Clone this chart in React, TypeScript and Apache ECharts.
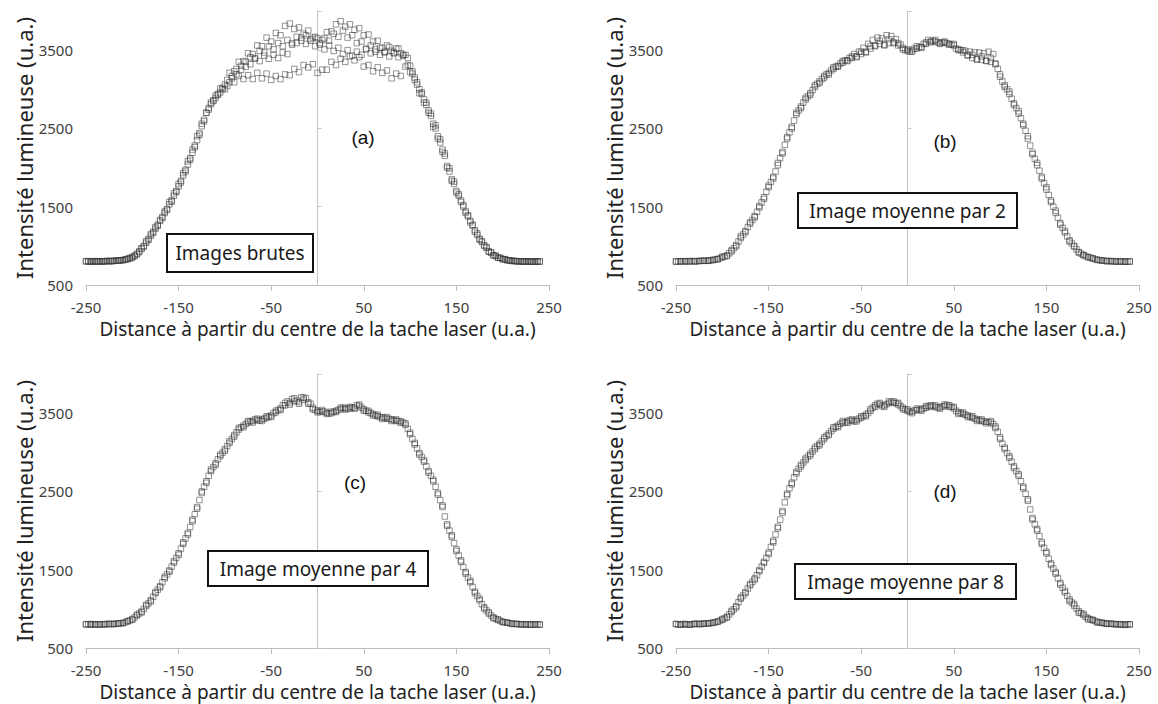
import React, { useEffect, useRef } from "react";
import * as echarts from "echarts";

// sample positions (u.a.)
const XA = [-250,-245,-240,-235,-230,-225,-220,-215,-210,-205,-200,-195,-190,-185,-180,-175,-170,-165,-160,-155,-150,-145,-140,-135,-130,-125,-120,-115,-110,-105,-100,-95,-90,-85,-80,-75,-70,-65,-60,-55,-50,-45,-40,-35,-30,-25,-20,-15,-10,-5,0,5,10,15,20,25,30,35,40,45,50,55,60,65,70,75,80,85,90,95,100,105,110,115,120,125,130,135,140,145,150,155,160,165,170,175,180,185,190,195,200,205,210,215,220,225,230,235,240];
const XB = [-247.5,-242.5,-237.5,-232.5,-227.5,-222.5,-217.5,-212.5,-207.5,-202.5,-197.5,-192.5,-187.5,-182.5,-177.5,-172.5,-167.5,-162.5,-157.5,-152.5,-147.5,-142.5,-137.5,-132.5,-127.5,-122.5,-117.5,-112.5,-107.5,-102.5,-97.5,-92.5,-87.5,-82.5,-77.5,-72.5,-67.5,-62.5,-57.5,-52.5,-47.5,-42.5,-37.5,-32.5,-27.5,-22.5,-17.5,-12.5,-7.5,-2.5,2.5,7.5,12.5,17.5,22.5,27.5,32.5,37.5,42.5,47.5,52.5,57.5,62.5,67.5,72.5,77.5,82.5,87.5,92.5,97.5,102.5,107.5,112.5,117.5,122.5,127.5,132.5,137.5,142.5,147.5,152.5,157.5,162.5,167.5,172.5,177.5,182.5,187.5,192.5,197.5,202.5,207.5,212.5,217.5,222.5,227.5,232.5,237.5];

// (a) Images brutes
const A1 = [800,796,802,799,803,805,808,811,816,830,850,890,960,1040,1130,1220,1320,1420,1530,1640,1760,1900,2040,2190,2350,2530,2700,2830,2920,3010,3060,3210,3230,3350,3360,3460,3450,3560,3550,3660,3610,3720,3690,3810,3840,3770,3790,3710,3750,3660,3650,3630,3730,3740,3830,3870,3800,3830,3760,3780,3690,3700,3610,3620,3530,3560,3490,3520,3460,3440,3300,3150,3000,2870,2730,2560,2400,2230,2020,1850,1700,1580,1440,1320,1200,1090,1010,930,880,850,830,815,808,804,801,799,800,797,800];
const A2 = [803,799,804,800,806,803,810,814,824,840,870,930,1000,1090,1180,1270,1370,1470,1580,1700,1830,1970,2120,2280,2440,2610,2760,2860,2940,3020,3120,3140,3260,3250,3350,3320,3400,3360,3430,3390,3440,3400,3470,3450,3570,3590,3660,3580,3620,3550,3590,3510,3560,3490,3530,3450,3500,3430,3480,3440,3510,3460,3510,3440,3480,3420,3460,3410,3430,3310,3200,3060,2940,2800,2660,2500,2320,2150,1950,1790,1640,1500,1380,1260,1140,1050,975,910,870,845,828,814,806,803,800,802,798,801];
const A3 = [805,802,800,804,801,806,809,813,820,836,858,900,970,1060,1150,1240,1330,1440,1560,1670,1790,1930,2080,2230,2400,2560,2700,2810,2890,2960,3000,3090,3090,3170,3130,3180,3130,3210,3140,3200,3120,3170,3130,3190,3180,3260,3220,3310,3280,3320,3210,3250,3250,3350,3310,3390,3350,3420,3370,3410,3290,3310,3230,3280,3210,3240,3140,3200,3170,3290,3220,3120,2950,2830,2700,2520,2370,2200,2000,1830,1680,1560,1420,1300,1180,1080,1000,925,878,848,828,816,808,803,800,802,799,801,800];
const A4 = [801,805,800,803,807,805,811,816,826,845,875,920,990,1075,1165,1255,1355,1460,1565,1690,1810,1950,2100,2260,2420,2590,2740,2850,2930,3000,3040,3170,3190,3300,3290,3410,3390,3490,3470,3550,3510,3590,3550,3630,3590,3670,3620,3690,3640,3670,3570,3650,3620,3710,3670,3750,3660,3690,3590,3610,3520,3560,3480,3530,3470,3540,3470,3520,3440,3400,3230,3090,2960,2830,2690,2540,2360,2180,1990,1820,1660,1520,1390,1270,1160,1060,985,918,874,848,830,815,808,803,801,799,800,798];

// (b) Image moyenne par 2
const B1 = [802,800,805,800,803,806,808,812,818,832,852,878,930,1010,1100,1190,1285,1380,1490,1620,1750,1880,2030,2200,2370,2520,2680,2780,2870,2950,3030,3100,3150,3210,3260,3300,3340,3370,3400,3420,3450,3480,3520,3560,3580,3570,3590,3600,3560,3530,3490,3500,3520,3540,3580,3610,3610,3590,3595,3580,3560,3510,3470,3440,3400,3385,3375,3365,3350,3330,3160,3050,2940,2820,2690,2560,2370,2190,2030,1880,1720,1580,1420,1290,1170,1070,990,920,880,858,838,822,812,806,804,801,800,798,800];
const B2 = [800,803,801,806,804,809,810,815,825,842,865,905,970,1055,1145,1240,1330,1435,1555,1690,1815,1950,2120,2290,2450,2600,2730,2830,2910,2990,3070,3130,3190,3240,3290,3330,3370,3400,3450,3480,3530,3580,3630,3660,3650,3690,3680,3640,3570,3500,3480,3520,3540,3580,3630,3620,3600,3600,3590,3570,3520,3500,3490,3480,3470,3470,3460,3480,3450,3260,3100,3000,2880,2760,2630,2470,2280,2110,1960,1800,1650,1500,1360,1230,1120,1030,955,900,868,848,830,817,810,805,802,800,801,799];
const B3 = [798,804,801,806,800,808,811,809,822,828,862,870,945,995,1120,1175,1300,1365,1510,1600,1770,1860,2060,2180,2390,2500,2700,2760,2890,2930,3050,3080,3170,3190,3280,3290,3360,3360,3420,3410,3480,3470,3550,3550,3620,3560,3640,3590,3590,3510,3510,3480,3550,3530,3600,3600,3630,3580,3610,3570,3580,3500,3500,3430,3440,3380,3420,3360,3400,3320,3190,3030,2970,2800,2720,2540,2400,2170,2060,1860,1750,1560,1450,1270,1190,1055,1000,915,885,855,842,820,815,804,806,799,802,797,801];

// (c) Image moyenne par 4
const C1 = [805,800,802,800,804,806,808,812,820,840,870,915,965,1035,1110,1200,1290,1390,1490,1590,1710,1830,1970,2120,2300,2480,2630,2760,2860,2950,3040,3120,3220,3290,3340,3380,3400,3410,3420,3440,3470,3510,3560,3600,3630,3650,3640,3670,3640,3550,3530,3520,3505,3500,3530,3550,3565,3560,3570,3590,3550,3510,3490,3460,3445,3430,3420,3400,3395,3350,3250,3100,2990,2880,2760,2630,2480,2300,2080,1920,1760,1600,1470,1340,1220,1110,1020,940,890,858,835,822,812,806,804,800,802,799,800];
const C2 = [800,804,799,803,806,804,810,815,828,852,890,940,998,1070,1155,1245,1340,1440,1540,1650,1770,1900,2045,2210,2390,2560,2700,2810,2910,2995,3080,3170,3255,3320,3360,3395,3420,3405,3430,3455,3500,3540,3600,3650,3680,3660,3700,3690,3620,3540,3515,3520,3495,3515,3540,3570,3555,3575,3600,3570,3530,3500,3470,3450,3440,3425,3410,3400,3380,3300,3170,3050,2940,2820,2700,2560,2390,2180,2000,1840,1680,1535,1400,1280,1165,1060,980,915,872,846,828,816,808,803,800,801,798,801];
const C3 = [801,806,798,804,800,809,806,815,818,845,862,925,955,1050,1095,1215,1275,1410,1475,1610,1690,1850,1950,2140,2280,2500,2610,2780,2840,2970,3020,3140,3200,3310,3320,3400,3380,3430,3400,3460,3450,3530,3540,3630,3610,3690,3620,3700,3620,3570,3510,3540,3490,3520,3515,3570,3545,3580,3555,3610,3530,3530,3470,3480,3425,3450,3400,3420,3375,3370,3230,3120,2970,2900,2740,2650,2460,2320,2060,1940,1740,1620,1450,1360,1200,1130,1005,955,882,865,830,826,808,809,801,803,797,804,798];

// (d) Image moyenne par 8
const D1 = [805,800,803,800,806,808,810,815,822,838,860,900,960,1035,1130,1215,1300,1390,1480,1600,1700,1870,2030,2250,2450,2610,2730,2840,2900,2980,3040,3110,3170,3240,3300,3340,3380,3395,3400,3415,3440,3480,3530,3600,3610,3600,3630,3650,3610,3570,3530,3520,3540,3550,3570,3600,3580,3575,3590,3600,3560,3510,3490,3470,3440,3420,3400,3390,3380,3330,3170,3060,2930,2820,2700,2560,2380,2160,2000,1850,1710,1580,1450,1330,1210,1120,1040,970,920,880,855,835,820,812,808,805,800,798,800];
const D2 = [798,806,800,804,810,806,814,818,830,850,878,930,995,1085,1170,1260,1345,1430,1540,1650,1790,1950,2140,2360,2540,2680,2790,2870,2945,3010,3080,3140,3210,3270,3325,3365,3380,3410,3395,3430,3460,3500,3570,3620,3590,3615,3645,3630,3590,3545,3515,3535,3545,3560,3590,3595,3570,3585,3605,3580,3530,3500,3480,3455,3430,3410,3395,3385,3360,3260,3110,2990,2880,2760,2630,2470,2270,2080,1930,1780,1640,1515,1390,1270,1165,1080,1005,945,898,866,845,826,816,810,806,802,800,803];
const D3 = [808,797,806,797,809,805,813,812,825,835,870,890,975,1020,1145,1200,1315,1375,1495,1585,1720,1850,2050,2230,2470,2590,2750,2820,2920,2960,3060,3090,3190,3220,3320,3320,3400,3375,3420,3395,3460,3460,3550,3580,3630,3580,3650,3630,3630,3550,3550,3500,3560,3530,3590,3580,3600,3555,3610,3580,3580,3490,3510,3450,3460,3400,3420,3370,3400,3310,3190,3040,2950,2800,2720,2540,2400,2140,2020,1830,1730,1560,1470,1310,1230,1100,1060,950,935,865,860,825,825,808,812,802,804,795,803];

const X_NAME = "Distance à partir du centre de la tache laser (u.a.)";
const Y_NAME = "Intensité lumineuse (u.a.)";
const TAGS = ["(a)", "(b)", "(c)", "(d)"];
const BOX_TEXTS = ["Images brutes", "Image moyenne par 2", "Image moyenne par 4", "Image moyenne par 8"];

const PANELS = [
  { left: 86, top: 11, curves: [[XA, A1], [XB, A2], [XA, A3], [XB, A4]], tag: [363, 137], box: [167, 234, 146, 38] },
  { left: 676, top: 11, curves: [[XA, B1], [XB, B2], [XA, B3]], tag: [945, 141], box: [798, 193, 219, 35] },
  { left: 86, top: 374, curves: [[XA, C1], [XB, C2], [XA, C3]], tag: [355, 482], box: [208, 551, 220, 35] },
  { left: 676, top: 374, curves: [[XA, D1], [XB, D2], [XA, D3]], tag: [945, 491], box: [795, 564, 221, 35] },
];

const FONT = "'Noto Sans', 'Open Sans', sans-serif";

export default function App() {
  const ref = useRef<HTMLDivElement>(null);
  useEffect(() => {
    document.body.style.margin = "0";
    if (!ref.current) return;
    const chart = echarts.init(ref.current, undefined, { renderer: "svg" });
    const grid: any[] = [];
    const xAxis: any[] = [];
    const yAxis: any[] = [];
    const series: any[] = [];
    const graphic: any[] = [];
    PANELS.forEach((p, i) => {
      grid.push({ left: p.left, top: p.top, width: 463, height: 274 });
      xAxis.push({
        gridIndex: i, type: "value", min: -250, max: 250, interval: 100,
        axisLine: { onZero: false, lineStyle: { color: "#bdbdbd", width: 1 } },
        axisTick: { show: true, length: 6, lineStyle: { color: "#bdbdbd" } },
        axisLabel: { fontSize: 15, color: "#404040", margin: 14, fontFamily: FONT, formatter: (v: number) => String(v) },
        splitLine: { show: false },
        name: X_NAME, nameLocation: "middle", nameGap: 34,
        nameTextStyle: { fontSize: 19, color: "#222", fontFamily: FONT },
      });
      yAxis.push({
        gridIndex: i, type: "value", min: 500, max: 4000, interval: 1000,
        axisLine: { show: false, onZero: false },
        axisTick: { show: false },
        axisLabel: { fontSize: 15, color: "#404040", margin: 13, showMaxLabel: false, fontFamily: FONT, formatter: (v: number) => String(v) },
        splitLine: { show: false },
        name: Y_NAME, nameLocation: "middle", nameGap: 49,
        nameTextStyle: { fontSize: 22, color: "#222", fontFamily: FONT },
      });
      yAxis.push({
        gridIndex: i, type: "value", min: 500, max: 4000, interval: 1000,
        axisLine: { show: true, onZero: true, lineStyle: { color: "#c4c4c4", width: 1 } },
        axisTick: { show: true, length: 4, lineStyle: { color: "#c4c4c4" } },
        axisLabel: { show: false },
        splitLine: { show: false },
      });
      p.curves.forEach(([xs, ys]) => {
        series.push({
          type: "scatter", xAxisIndex: i, yAxisIndex: 2 * i,
          symbol: "rect", symbolSize: 5.5, silent: true,
          itemStyle: { color: "rgba(255,255,255,0)", borderColor: "rgba(50,50,50,0.72)", borderWidth: 0.9 },
          data: (xs as number[]).map((x, k) => [x, (ys as number[])[k]]),
        });
      });
      const [bx, by, bw, bh] = p.box;
      graphic.push({
        type: "rect", z: 100, shape: { x: bx, y: by, width: bw, height: bh },
        style: { fill: "#fff", stroke: "#111", lineWidth: 2 },
      });
      graphic.push({
        type: "text", z: 101, x: bx + bw / 2, y: by + bh / 2,
        style: { text: BOX_TEXTS[i], fontSize: 19, fontFamily: FONT, fill: "#1a1a1a", align: "center", verticalAlign: "middle", textAlign: "center", textVerticalAlign: "middle" },
      });
      graphic.push({
        type: "text", z: 101, x: p.tag[0], y: p.tag[1],
        style: { text: TAGS[i], fontSize: 19, fontFamily: "'Liberation Sans', Arial, sans-serif", fill: "#111", align: "center", verticalAlign: "middle", textAlign: "center", textVerticalAlign: "middle" },
      });
    });
    chart.setOption({
      animation: false,
      backgroundColor: "#fff",
      grid, xAxis, yAxis, series, graphic,
    });
    return () => chart.dispose();
  }, []);
  return <div ref={ref} style={{ width: 1158, height: 704 }} />;
}
